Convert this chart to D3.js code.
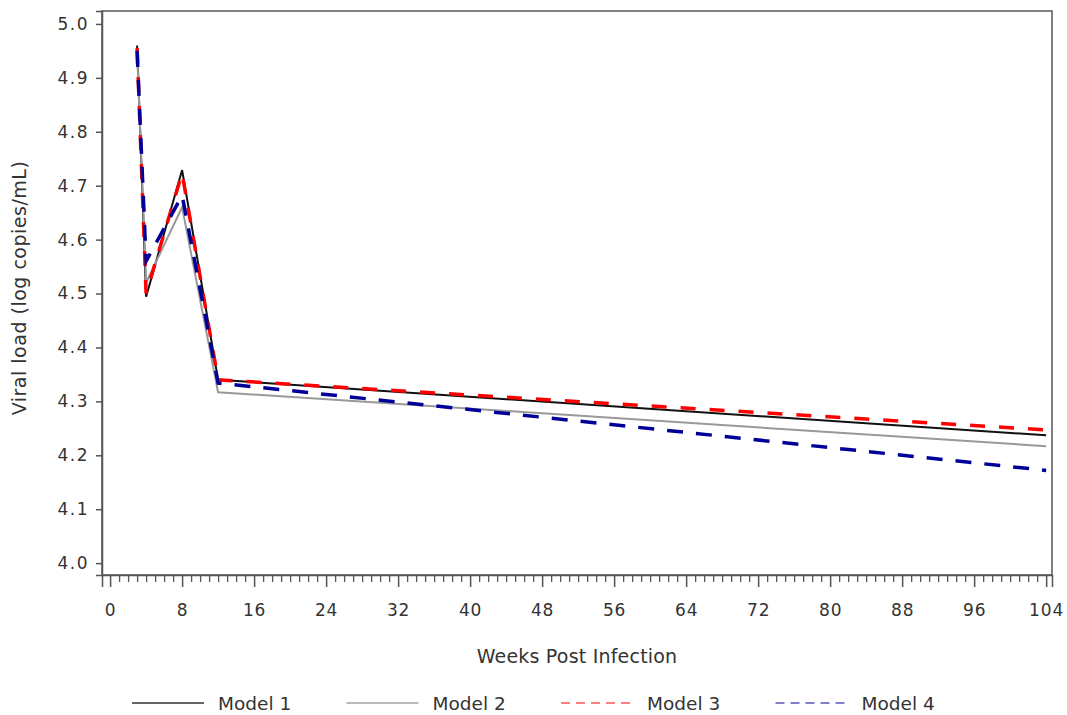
<!DOCTYPE html>
<html>
<head>
<meta charset="utf-8">
<script src="https://cdn.jsdelivr.net/npm/d3@7"></script>
<style>
  html, body { margin: 0; padding: 0; background: #fff; }
  svg { display: block; }
  text { font-family: "DejaVu Sans", sans-serif; fill: #333; }
</style>
</head>
<body>
<svg id="chart" width="1067" height="715"></svg>
<script>
// Weeks at which each model's fitted viral load is reported
const weeks = [3, 4, 8, 12, 104];

// Fitted viral load (log10 copies/mL) per model
const model1 = [4.960, 4.494, 4.729, 4.340, 4.237];
const model2 = [4.950, 4.520, 4.660, 4.317, 4.217];
const model3 = [4.955, 4.500, 4.723, 4.340, 4.247];
const model4 = [4.950, 4.560, 4.682, 4.334, 4.172];

const seriesNames = ["Model 1", "Model 2", "Model 3", "Model 4"];
const xTicks = [0, 8, 16, 24, 32, 40, 48, 56, 64, 72, 80, 88, 96, 104];
const yTicks = [4.0, 4.1, 4.2, 4.3, 4.4, 4.5, 4.6, 4.7, 4.8, 4.9, 5.0];

const series = [
  { name: seriesNames[0], values: model1, color: "#111", width: 2, dash: null,
    legendColor: "#666", legendWidth: 2 },
  { name: seriesNames[1], values: model2, color: "#999", width: 2, dash: null,
    legendColor: "#bbb", legendWidth: 2 },
  { name: seriesNames[2], values: model3, color: "#ff0000", width: 3.5, dash: "15,14",
    legendColor: "#ff8080", legendWidth: 2, legendDash: "9,6" },
  { name: seriesNames[3], values: model4, color: "#000099", width: 3.5, dash: "16,13",
    legendColor: "#8080cc", legendWidth: 2, legendDash: "9,6" }
];

const svg = d3.select("#chart");
const plot = { left: 102, right: 1052, top: 11, bottom: 575 };

const x = d3.scaleLinear().domain([-0.9, 104.65]).range([plot.left, plot.right]);
const y = d3.scaleLinear().domain([3.978, 5.024]).range([plot.bottom, plot.top]);

// Frame around plotting area
svg.append("rect")
  .attr("x", plot.left).attr("y", plot.top)
  .attr("width", plot.right - plot.left).attr("height", plot.bottom - plot.top)
  .attr("fill", "none").attr("stroke", "#555").attr("stroke-width", 1.5);

// Minor x ticks every week
const xMinor = d3.range(0, 105, 1).filter(d => d % 8 !== 0);
svg.append("g")
  .attr("transform", `translate(0,${plot.bottom})`)
  .call(d3.axisBottom(x).tickValues(xMinor).tickSize(7).tickFormat(""))
  .call(g => g.select(".domain").remove())
  .call(g => g.selectAll("line").attr("stroke", "#555").attr("stroke-width", 1.3));

// Major x ticks and labels
svg.append("g")
  .attr("transform", `translate(0,${plot.bottom})`)
  .call(d3.axisBottom(x).tickValues(xTicks).tickSize(12).tickPadding(17).tickFormat(d3.format("d")))
  .call(g => g.select(".domain").attr("stroke", "#555").attr("stroke-width", 1.5))
  .call(g => g.selectAll("line").attr("stroke", "#555").attr("stroke-width", 1.5))
  .call(g => g.selectAll("text").attr("font-size", 17).attr("fill", "#333")
    .style("letter-spacing", "0.9px").attr("font-family", "DejaVu Sans, sans-serif"));

// Y axis
svg.append("g")
  .attr("transform", `translate(${plot.left},0)`)
  .call(d3.axisLeft(y).tickValues(yTicks).tickSize(6).tickPadding(7).tickFormat(d3.format(".1f")))
  .call(g => g.select(".domain").attr("stroke", "#555").attr("stroke-width", 1.5))
  .call(g => g.selectAll("line").attr("stroke", "#555").attr("stroke-width", 1.5))
  .call(g => g.selectAll("text").attr("font-size", 17).attr("fill", "#333")
    .style("letter-spacing", "1.5px").attr("font-family", "DejaVu Sans, sans-serif"));

// Axis titles
svg.append("text")
  .attr("x", 577).attr("y", 663)
  .attr("text-anchor", "middle").attr("font-size", 19)
  .style("letter-spacing", "0.2px")
  .text("Weeks Post Infection");

svg.append("text")
  .attr("transform", "translate(26,288) rotate(-90)")
  .attr("text-anchor", "middle").attr("font-size", 19)
  .style("letter-spacing", "0.5px")
  .text("Viral load (log copies/mL)");

// Model curves
const line = d3.line().x((d, i) => x(weeks[i])).y(d => y(d));
series.forEach(s => {
  svg.append("path")
    .datum(s.values)
    .attr("d", line)
    .attr("fill", "none")
    .attr("stroke", s.color)
    .attr("stroke-width", s.width)
    .attr("stroke-dasharray", s.dash)
    .attr("stroke-linejoin", "miter");
});

// Legend
const legendY = 703;
const legend = svg.append("g");
series.forEach((s, i) => {
  const x0 = 132 + i * 214.5;
  legend.append("line")
    .attr("x1", x0).attr("x2", x0 + 72)
    .attr("y1", legendY).attr("y2", legendY)
    .attr("stroke", s.legendColor).attr("stroke-width", s.legendWidth)
    .attr("stroke-dasharray", s.legendDash || null);
  legend.append("text")
    .attr("x", x0 + 86).attr("y", legendY + 7)
    .attr("font-size", 18.5)
    .text(s.name);
});
</script>
</body>
</html>
